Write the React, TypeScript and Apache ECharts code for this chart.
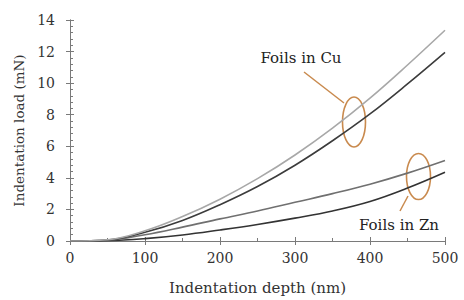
import React, { useEffect, useRef } from "react";
import * as echarts from "echarts";

const depths = [0, 50, 100, 150, 200, 250, 300, 350, 400, 450, 500];
const cuLight = [0, 0.08, 0.65, 1.55, 2.65, 3.95, 5.45, 7.15, 9.05, 11.15, 13.35];
const cuDark = [0, 0.06, 0.55, 1.3, 2.3, 3.45, 4.8, 6.35, 8.05, 9.95, 11.95];
const znLight = [0, 0.05, 0.4, 0.88, 1.4, 1.9, 2.45, 3.0, 3.6, 4.3, 5.1];
const znDark = [0, 0.02, 0.15, 0.38, 0.7, 1.05, 1.45, 1.9, 2.5, 3.35, 4.35];

const xTicks = [0, 100, 200, 300, 400, 500];
const yTicks = [0, 2, 4, 6, 8, 10, 12, 14];

const FONT = "DejaVu Serif";

export default function App() {
  const ref = useRef<HTMLDivElement>(null);
  useEffect(() => {
    document.body.style.margin = "0";
    if (!ref.current) return;
    const chart = echarts.init(ref.current, null, { renderer: "svg" });
    const axisCol = "#7a7a7a";
    const mk = (vals: number[]) => depths.map((d, i) => [d, vals[i]]);
    const line = (vals: number[], color: string) => ({
      type: "line",
      data: mk(vals),
      smooth: 0.4,
      symbol: "none",
      xAxisIndex: 0,
      yAxisIndex: 0,
      lineStyle: { color, width: 1.6 },
    });
    const baseX = {
      type: "value",
      min: xTicks[0],
      max: xTicks[xTicks.length - 1],
      interval: 100,
      position: "bottom",
      axisLine: { lineStyle: { color: axisCol, width: 1 } },
      splitLine: { show: false },
      minorSplitLine: { show: false },
    };
    const baseY = {
      type: "value",
      min: yTicks[0],
      max: yTicks[yTicks.length - 1],
      interval: 2,
      position: "left",
      axisLine: { lineStyle: { color: axisCol, width: 1 } },
      splitLine: { show: false },
      minorSplitLine: { show: false },
    };
    const orange = "#c98a4e";
    const labelStyle = { fontFamily: FONT, fontSize: 14, color: "#333" };
    chart.setOption({
      animation: false,
      grid: { left: 70, right: 19, top: 20, bottom: 57 },
      xAxis: [
        {
          ...baseX,
          name: "Indentation depth (nm)",
          nameLocation: "middle",
          nameGap: 39,
          nameTextStyle: { fontFamily: FONT, fontSize: 15, color: "#333" },
          axisTick: { show: true, inside: false, length: 4, lineStyle: { color: axisCol } },
          axisLabel: { ...labelStyle, margin: 10 },
          minorTick: { show: false },
        },
        {
          ...baseX,
          axisTick: { show: true, inside: true, length: 4, lineStyle: { color: axisCol } },
          axisLabel: { show: false },
          minorTick: { show: true, splitNumber: 2, length: 3, lineStyle: { color: axisCol } },
        },
      ],
      yAxis: [
        {
          ...baseY,
          name: "Indentation load (mN)",
          nameLocation: "middle",
          nameGap: 38,
          nameTextStyle: { fontFamily: FONT, fontSize: 13.5, color: "#333" },
          axisTick: { show: true, inside: false, length: 4, lineStyle: { color: axisCol } },
          axisLabel: { ...labelStyle, margin: 15 },
          minorTick: { show: false },
        },
        {
          ...baseY,
          axisTick: { show: true, inside: true, length: 4, lineStyle: { color: axisCol } },
          axisLabel: { show: false },
          minorTick: { show: true, splitNumber: 5, length: 3, lineStyle: { color: axisCol } },
        },
      ],
      series: [
        line(znDark, "#333333"),
        line(znLight, "#707070"),
        line(cuDark, "#3c3c3c"),
        line(cuLight, "#a8a8a8"),
      ],
      graphic: [
        {
          type: "text",
          x: 301,
          y: 58,
          style: {
            text: "Foils in Cu",
            fontFamily: FONT,
            fontSize: 15,
            fill: "#222",
            align: "center",
            verticalAlign: "middle",
          },
        },
        {
          type: "line",
          shape: { x1: 304, y1: 72, x2: 344, y2: 103 },
          style: { stroke: orange, lineWidth: 1.5 },
        },
        {
          type: "ellipse",
          shape: { cx: 354, cy: 122, rx: 11.5, ry: 25 },
          style: { stroke: orange, lineWidth: 1.6, fill: "none" },
        },
        {
          type: "text",
          x: 399,
          y: 225,
          style: {
            text: "Foils in Zn",
            fontFamily: FONT,
            fontSize: 15,
            fill: "#222",
            align: "center",
            verticalAlign: "middle",
          },
        },
        {
          type: "line",
          shape: { x1: 400, y1: 211, x2: 408, y2: 196 },
          style: { stroke: orange, lineWidth: 1.5 },
        },
        {
          type: "ellipse",
          shape: { cx: 418.5, cy: 176.5, rx: 12, ry: 23 },
          style: { stroke: orange, lineWidth: 1.6, fill: "none" },
        },
      ],
    });
    return () => chart.dispose();
  }, []);
  return <div ref={ref} style={{ width: 464, height: 300, background: "#fff" }} />;
}
